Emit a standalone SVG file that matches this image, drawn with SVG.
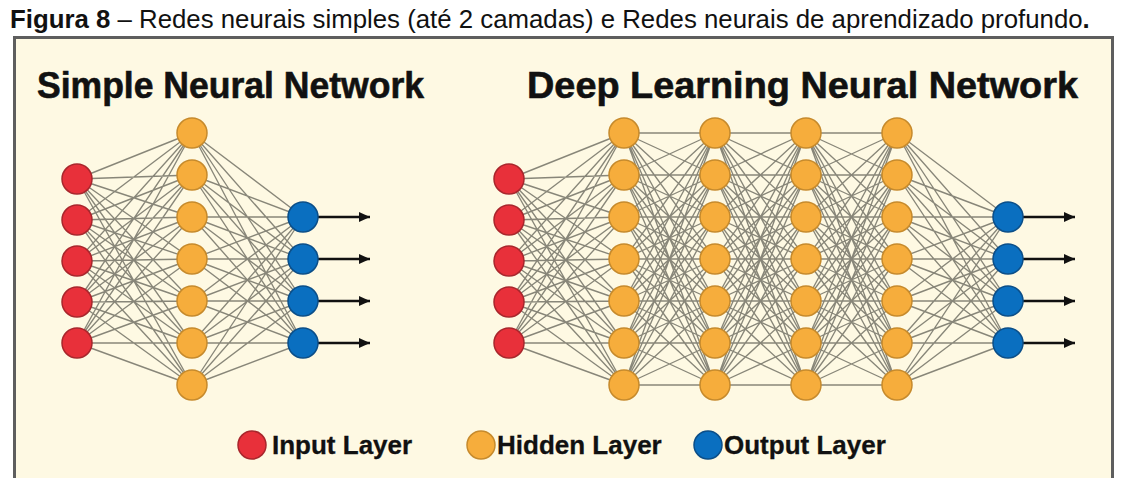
<svg xmlns="http://www.w3.org/2000/svg" width="1125" height="478" viewBox="0 0 1125 478">
  <style>
    text { font-family: "Liberation Sans", Arial, Helvetica, sans-serif; fill: #111; }
    .caption { font-size: 25.8px; }
    .title { font-size: 36px; font-weight: bold; stroke: #111; stroke-width: 0.6; }
    .legend { font-size: 26px; font-weight: bold; stroke: #111; stroke-width: 0.3; }
    .edges { fill: none; stroke: #55554c; stroke-width: 1.35; stroke-opacity: 0.7; }
    .arrow { stroke: #111; stroke-width: 2.4; marker-end: url(#head); }
    .in  { fill: #e8303a; stroke: #a8262c; stroke-width: 1.5; }
    .hid { fill: #f6ad3c; stroke: #c68a2c; stroke-width: 1.5; }
    .out { fill: #0a6fc0; stroke: #0b4e88; stroke-width: 1.5; }
  </style>
  <defs>
    <marker id="head" markerUnits="userSpaceOnUse" markerWidth="11" markerHeight="10" refX="11" refY="5" orient="auto">
      <path d="M0,0 L11,5 L0,10 z" fill="#111"/>
    </marker>
    <!-- full connection: 5 inputs to 7 hidden units, dx = 115 -->
    <path id="inToHid" d="M0 179L115 133M0 179L115 175M0 179L115 217M0 179L115 259M0 179L115 301M0 179L115 343M0 179L115 385
      M0 220L115 133M0 220L115 175M0 220L115 217M0 220L115 259M0 220L115 301M0 220L115 343M0 220L115 385
      M0 261L115 133M0 261L115 175M0 261L115 217M0 261L115 259M0 261L115 301M0 261L115 343M0 261L115 385
      M0 302L115 133M0 302L115 175M0 302L115 217M0 302L115 259M0 302L115 301M0 302L115 343M0 302L115 385
      M0 343L115 133M0 343L115 175M0 343L115 217M0 343L115 259M0 343L115 301M0 343L115 343M0 343L115 385"/>
    <!-- full connection: 7 hidden to 7 hidden units, dx = 91 -->
    <path id="hidToHid" d="M0 133L91 133M0 133L91 175M0 133L91 217M0 133L91 259M0 133L91 301M0 133L91 343M0 133L91 385
      M0 175L91 133M0 175L91 175M0 175L91 217M0 175L91 259M0 175L91 301M0 175L91 343M0 175L91 385
      M0 217L91 133M0 217L91 175M0 217L91 217M0 217L91 259M0 217L91 301M0 217L91 343M0 217L91 385
      M0 259L91 133M0 259L91 175M0 259L91 217M0 259L91 259M0 259L91 301M0 259L91 343M0 259L91 385
      M0 301L91 133M0 301L91 175M0 301L91 217M0 301L91 259M0 301L91 301M0 301L91 343M0 301L91 385
      M0 343L91 133M0 343L91 175M0 343L91 217M0 343L91 259M0 343L91 301M0 343L91 343M0 343L91 385
      M0 385L91 133M0 385L91 175M0 385L91 217M0 385L91 259M0 385L91 301M0 385L91 343M0 385L91 385"/>
    <!-- full connection: 7 hidden to 4 outputs, dx = 111 -->
    <path id="hidToOut" d="M0 133L111 217M0 133L111 259M0 133L111 301M0 133L111 343
      M0 175L111 217M0 175L111 259M0 175L111 301M0 175L111 343
      M0 217L111 217M0 217L111 259M0 217L111 301M0 217L111 343
      M0 259L111 217M0 259L111 259M0 259L111 301M0 259L111 343
      M0 301L111 217M0 301L111 259M0 301L111 301M0 301L111 343
      M0 343L111 217M0 343L111 259M0 343L111 301M0 343L111 343
      M0 385L111 217M0 385L111 259M0 385L111 301M0 385L111 343"/>
  </defs>

  <rect width="1125" height="478" fill="#ffffff"/>

  <text class="caption" x="10" y="28"><tspan font-weight="bold">Figura 8</tspan> – Redes neurais simples (até 2 camadas) e Redes neurais de aprendizado profundo<tspan font-weight="bold">.</tspan></text>

  <!-- panel -->
  <rect x="14.5" y="37.5" width="1098" height="460" fill="#fef9e3" stroke="#5e5e5e" stroke-width="3"/>

  <text class="title" x="37" y="98" textLength="387" lengthAdjust="spacingAndGlyphs">Simple Neural Network</text>
  <text class="title" x="527" y="98" textLength="551" lengthAdjust="spacingAndGlyphs">Deep Learning Neural Network</text>

  <!-- connectors -->
  <g id="connectors">
    <g class="edges">
      <use href="#inToHid" x="77"/>
      <use href="#hidToOut" x="192"/>
      <use href="#inToHid" x="509"/>
      <use href="#hidToHid" x="624"/>
      <use href="#hidToHid" x="715"/>
      <use href="#hidToHid" x="806"/>
      <use href="#hidToOut" x="897"/>
    </g>
    <g class="arrow">
      <line x1="318" y1="217" x2="370" y2="217"/>
      <line x1="318" y1="259" x2="370" y2="259"/>
      <line x1="318" y1="301" x2="370" y2="301"/>
      <line x1="318" y1="343" x2="370" y2="343"/>
      <line x1="1023" y1="217" x2="1075" y2="217"/>
      <line x1="1023" y1="259" x2="1075" y2="259"/>
      <line x1="1023" y1="301" x2="1075" y2="301"/>
      <line x1="1023" y1="343" x2="1075" y2="343"/>
    </g>
  </g>

  <!-- simple network nodes -->
  <g id="s-in-1"><circle class="in" cx="77" cy="179" r="15"/></g>
  <g id="s-in-2"><circle class="in" cx="77" cy="220" r="15"/></g>
  <g id="s-in-3"><circle class="in" cx="77" cy="261" r="15"/></g>
  <g id="s-in-4"><circle class="in" cx="77" cy="302" r="15"/></g>
  <g id="s-in-5"><circle class="in" cx="77" cy="343" r="15"/></g>
  <g id="s-h-1"><circle class="hid" cx="192" cy="133" r="15"/></g>
  <g id="s-h-2"><circle class="hid" cx="192" cy="175" r="15"/></g>
  <g id="s-h-3"><circle class="hid" cx="192" cy="217" r="15"/></g>
  <g id="s-h-4"><circle class="hid" cx="192" cy="259" r="15"/></g>
  <g id="s-h-5"><circle class="hid" cx="192" cy="301" r="15"/></g>
  <g id="s-h-6"><circle class="hid" cx="192" cy="343" r="15"/></g>
  <g id="s-h-7"><circle class="hid" cx="192" cy="385" r="15"/></g>
  <g id="s-out-1"><circle class="out" cx="303" cy="217" r="15"/></g>
  <g id="s-out-2"><circle class="out" cx="303" cy="259" r="15"/></g>
  <g id="s-out-3"><circle class="out" cx="303" cy="301" r="15"/></g>
  <g id="s-out-4"><circle class="out" cx="303" cy="343" r="15"/></g>

  <!-- deep network nodes -->
  <g id="d-in-1"><circle class="in" cx="509" cy="179" r="15"/></g>
  <g id="d-in-2"><circle class="in" cx="509" cy="220" r="15"/></g>
  <g id="d-in-3"><circle class="in" cx="509" cy="261" r="15"/></g>
  <g id="d-in-4"><circle class="in" cx="509" cy="302" r="15"/></g>
  <g id="d-in-5"><circle class="in" cx="509" cy="343" r="15"/></g>

  <g id="d-h1-1"><circle class="hid" cx="624" cy="133" r="15"/></g>
  <g id="d-h1-2"><circle class="hid" cx="624" cy="175" r="15"/></g>
  <g id="d-h1-3"><circle class="hid" cx="624" cy="217" r="15"/></g>
  <g id="d-h1-4"><circle class="hid" cx="624" cy="259" r="15"/></g>
  <g id="d-h1-5"><circle class="hid" cx="624" cy="301" r="15"/></g>
  <g id="d-h1-6"><circle class="hid" cx="624" cy="343" r="15"/></g>
  <g id="d-h1-7"><circle class="hid" cx="624" cy="385" r="15"/></g>

  <g id="d-h2-1"><circle class="hid" cx="715" cy="133" r="15"/></g>
  <g id="d-h2-2"><circle class="hid" cx="715" cy="175" r="15"/></g>
  <g id="d-h2-3"><circle class="hid" cx="715" cy="217" r="15"/></g>
  <g id="d-h2-4"><circle class="hid" cx="715" cy="259" r="15"/></g>
  <g id="d-h2-5"><circle class="hid" cx="715" cy="301" r="15"/></g>
  <g id="d-h2-6"><circle class="hid" cx="715" cy="343" r="15"/></g>
  <g id="d-h2-7"><circle class="hid" cx="715" cy="385" r="15"/></g>

  <g id="d-h3-1"><circle class="hid" cx="806" cy="133" r="15"/></g>
  <g id="d-h3-2"><circle class="hid" cx="806" cy="175" r="15"/></g>
  <g id="d-h3-3"><circle class="hid" cx="806" cy="217" r="15"/></g>
  <g id="d-h3-4"><circle class="hid" cx="806" cy="259" r="15"/></g>
  <g id="d-h3-5"><circle class="hid" cx="806" cy="301" r="15"/></g>
  <g id="d-h3-6"><circle class="hid" cx="806" cy="343" r="15"/></g>
  <g id="d-h3-7"><circle class="hid" cx="806" cy="385" r="15"/></g>

  <g id="d-h4-1"><circle class="hid" cx="897" cy="133" r="15"/></g>
  <g id="d-h4-2"><circle class="hid" cx="897" cy="175" r="15"/></g>
  <g id="d-h4-3"><circle class="hid" cx="897" cy="217" r="15"/></g>
  <g id="d-h4-4"><circle class="hid" cx="897" cy="259" r="15"/></g>
  <g id="d-h4-5"><circle class="hid" cx="897" cy="301" r="15"/></g>
  <g id="d-h4-6"><circle class="hid" cx="897" cy="343" r="15"/></g>
  <g id="d-h4-7"><circle class="hid" cx="897" cy="385" r="15"/></g>

  <g id="d-out-1"><circle class="out" cx="1008" cy="217" r="15"/></g>
  <g id="d-out-2"><circle class="out" cx="1008" cy="259" r="15"/></g>
  <g id="d-out-3"><circle class="out" cx="1008" cy="301" r="15"/></g>
  <g id="d-out-4"><circle class="out" cx="1008" cy="343" r="15"/></g>

  <!-- legend -->
  <g id="legend">
    <circle class="in" cx="252" cy="445" r="14"/>
    <text class="legend" x="272" y="454">Input Layer</text>
    <circle class="hid" cx="481" cy="445" r="14"/>
    <text class="legend" x="497" y="454">Hidden Layer</text>
    <circle class="out" cx="708" cy="445" r="14"/>
    <text class="legend" x="724" y="454">Output Layer</text>
  </g>
</svg>
